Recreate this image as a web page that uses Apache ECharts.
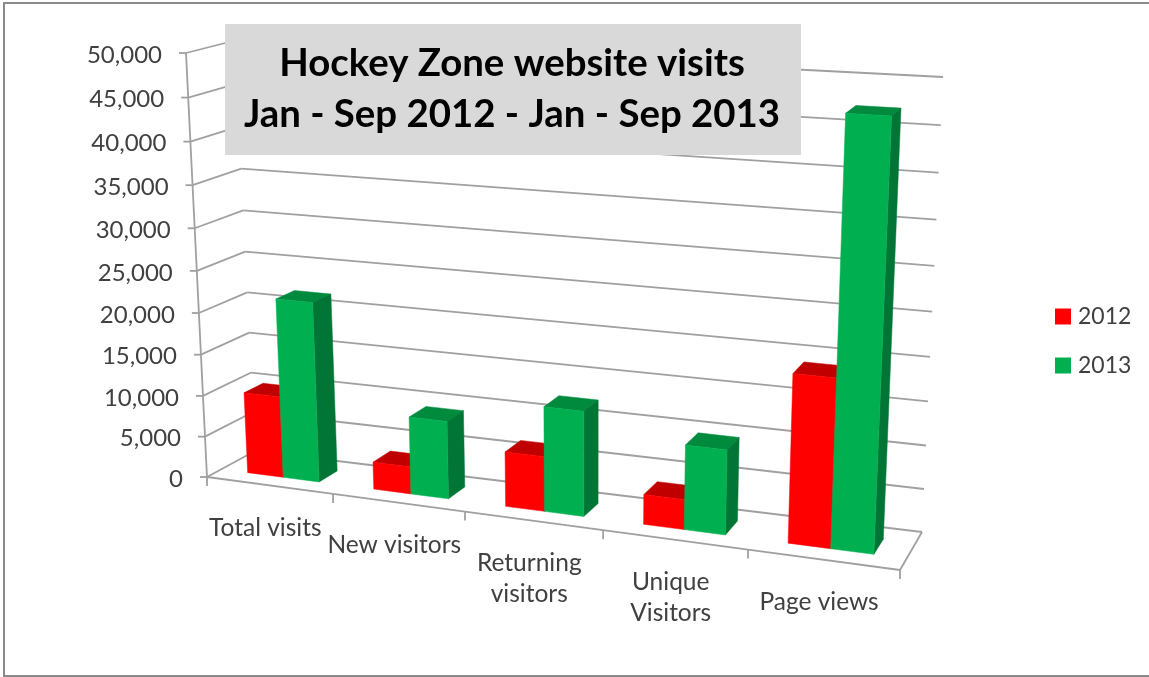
<!DOCTYPE html>
<html><head><meta charset="utf-8">
<style>html,body{margin:0;padding:0;background:#fff}#c{width:1149px;height:677px}</style>
<script src="https://cdn.jsdelivr.net/npm/echarts@6/dist/echarts.min.js"></script></head>
<body><div id="c"></div>
<script>
const categories = ['Total visits','New visitors','Returning\nvisitors','Unique\nVisitors','Page views'];
const series2012 = [9900, 3300, 6500, 3500, 19150];
const series2013 = [21700, 9300, 12350, 9800, 47200];
const yTicks = [0,5000,10000,15000,20000,25000,30000,35000,40000,45000,50000];
const yMax = 50000;

const W = 1149, H = 677;
// box outline of the pseudo-3D plot: [bottom-left, bottom-right, top-right, top-left]
const frontPlane = [[207,477],[900,570],[921,96],[186,53]];
const backPlane  = [[255,451],[922,532],[943,77],[235,40.5]];
function homography(q){
  const [p0,p1,p2,p3]=q;
  const dx1=p1[0]-p2[0],dx2=p3[0]-p2[0],dx3=p0[0]-p1[0]+p2[0]-p3[0];
  const dy1=p1[1]-p2[1],dy2=p3[1]-p2[1],dy3=p0[1]-p1[1]+p2[1]-p3[1];
  const d=dx1*dy2-dx2*dy1;
  const g=(dx3*dy2-dx2*dy3)/d,h=(dx1*dy3-dx3*dy1)/d;
  const a=p1[0]-p0[0]+g*p1[0],b=p3[0]-p0[0]+h*p3[0],c=p0[0];
  const e=p1[1]-p0[1]+g*p1[1],f=p3[1]-p0[1]+h*p3[1],i=p0[1];
  return (u,v)=>{const w=g*u+h*v+1;return [(a*u+b*v+c)/w,(e*u+f*v+i)/w];};
}
const hFront=homography(frontPlane), hBack=homography(backPlane);
function project(u,v,z){
  const a=hFront(u,v),b=hBack(u,v);
  return [a[0]+(b[0]-a[0])*z,a[1]+(b[1]-a[1])*z];
}
// screen point of a (category-space x, value) pair through the hidden grid's scales
function place(api,catIdx,frac,value,z){
  const c=api.coord([catIdx,value]);
  const band=api.size([1,0])[0];
  return project((c[0]+band*(frac-0.5))/W,1-c[1]/H,z);
}
const poly=(pts,fill)=>({type:'polygon',shape:{points:pts},style:{fill,stroke:fill,lineWidth:0.5}});
const line=(a,b)=>({type:'line',shape:{x1:a[0],y1:a[1],x2:b[0],y2:b[1]},style:{stroke:'#A0A0A0',lineWidth:1.8}});

function barRenderer(f0,f1,front,top,side){
  return function(params,api){
    const i=api.value(0),v=api.value(1),z0=0.3,z1=0.7;
    const P=(f,val,z)=>place(api,i,f,val,z);
    return {type:'group',children:[
      poly([P(f0,v,z0),P(f1,v,z0),P(f1,v,z1),P(f0,v,z1)],top),
      poly([P(f1,0,z0),P(f1,v,z0),P(f1,v,z1),P(f1,0,z1)],side),
      poly([P(f0,0,z0),P(f1,0,z0),P(f1,v,z0),P(f0,v,z0)],front)
    ]};
  };
}
function wallRenderer(params,api){
  const v=api.value(1),n=categories.length;
  const a=place(api,0,0,v,0),b=place(api,0,0,v,1),c=place(api,n-1,1,v,1);
  const kids=[line(a,b),line(b,c),line([a[0]-7,a[1]],a),
    {type:'text',x:a[0]-24,y:a[1]+2,style:{text:yTicks[params.dataIndex].toLocaleString('en-US'),textAlign:'right',textVerticalAlign:'middle',font:'24px Lato',fill:'#404040'}}];
  return {type:'group',children:kids};
}
function floorRenderer(params,api){
  const i=api.value(0),kids=[];
  const a=place(api,i,0,0,0),b=place(api,i,1,0,0),m=place(api,i,0.5,0,0);
  kids.push(line(a,b),line(b,[b[0],b[1]+9]));
  if(i===0)kids.push(line(a,[a[0],a[1]+9]),line(place(api,0,0,0,0),place(api,0,0,yMax,0)));
  if(i===categories.length-1)kids.push(line(b,place(api,i,1,0,1)));
  kids.push({type:'text',x:m[0]-4,y:m[1]+27,style:{text:categories[i],textAlign:'center',textVerticalAlign:'top',font:'24.5px Lato',lineHeight:31,fill:'#404040'}});
  return {type:'group',children:kids};
}
const idx=categories.map((_,i)=>i);
const chart=echarts.init(document.getElementById('c'),null,{renderer:'canvas'});
chart.setOption({
  animation:false,
  backgroundColor:'#fff',
  graphic:[
    {type:'rect',shape:{x:4,y:3,width:1200,height:673},style:{fill:'none',stroke:'#8A8A8A',lineWidth:2},silent:true,z:0},
    {type:'rect',shape:{x:225,y:24,width:576,height:131},style:{fill:'#D9D9D9'},silent:true,z:10}
  ],
  title:{text:'Hockey Zone website visits\nJan - Sep 2012 - Jan - Sep 2013',left:512,top:38,z:20,padding:0,
    textAlign:'center',
    textStyle:{fontFamily:'Lato',fontWeight:'bold',fontSize:38.4,lineHeight:51,color:'#000',align:'center'}},
  legend:{orient:'vertical',left:1055,top:305,padding:0,itemWidth:16,itemHeight:16,itemGap:26,icon:'rect',
    data:['2012','2013'],selectedMode:false,
    textStyle:{fontFamily:'Lato',fontSize:23,color:'#404040',padding:[0,0,0,2]}},
  grid:{left:0,top:0,width:W,height:H,show:false},
  xAxis:{type:'category',data:categories,show:false},
  yAxis:{type:'value',min:0,max:yMax,show:false},
  series:[
    {type:'custom',name:'walls',coordinateSystem:'cartesian2d',clip:false,silent:true,z:1,
     data:yTicks.map(v=>[0,v]),renderItem:wallRenderer,encode:{x:0,y:1}},
    {type:'custom',name:'floor',coordinateSystem:'cartesian2d',clip:false,silent:true,z:1,
     data:idx.map(i=>[i,0]),renderItem:floorRenderer,encode:{x:0,y:1}},
    {type:'custom',name:'2012',coordinateSystem:'cartesian2d',clip:false,z:3,itemStyle:{color:'#FF0000'},
     data:idx.map(i=>[i,series2012[i]]),renderItem:barRenderer(0.214,0.5,'#FF0000','#C00000','#A80000'),encode:{x:0,y:1}},
    {type:'custom',name:'2013',coordinateSystem:'cartesian2d',clip:false,z:4,itemStyle:{color:'#00B050'},
     data:idx.map(i=>[i,series2013[i]]),renderItem:barRenderer(0.5,0.786,'#00B050','#008A3E','#007535'),encode:{x:0,y:1}}
  ]
});
</script></body></html>
